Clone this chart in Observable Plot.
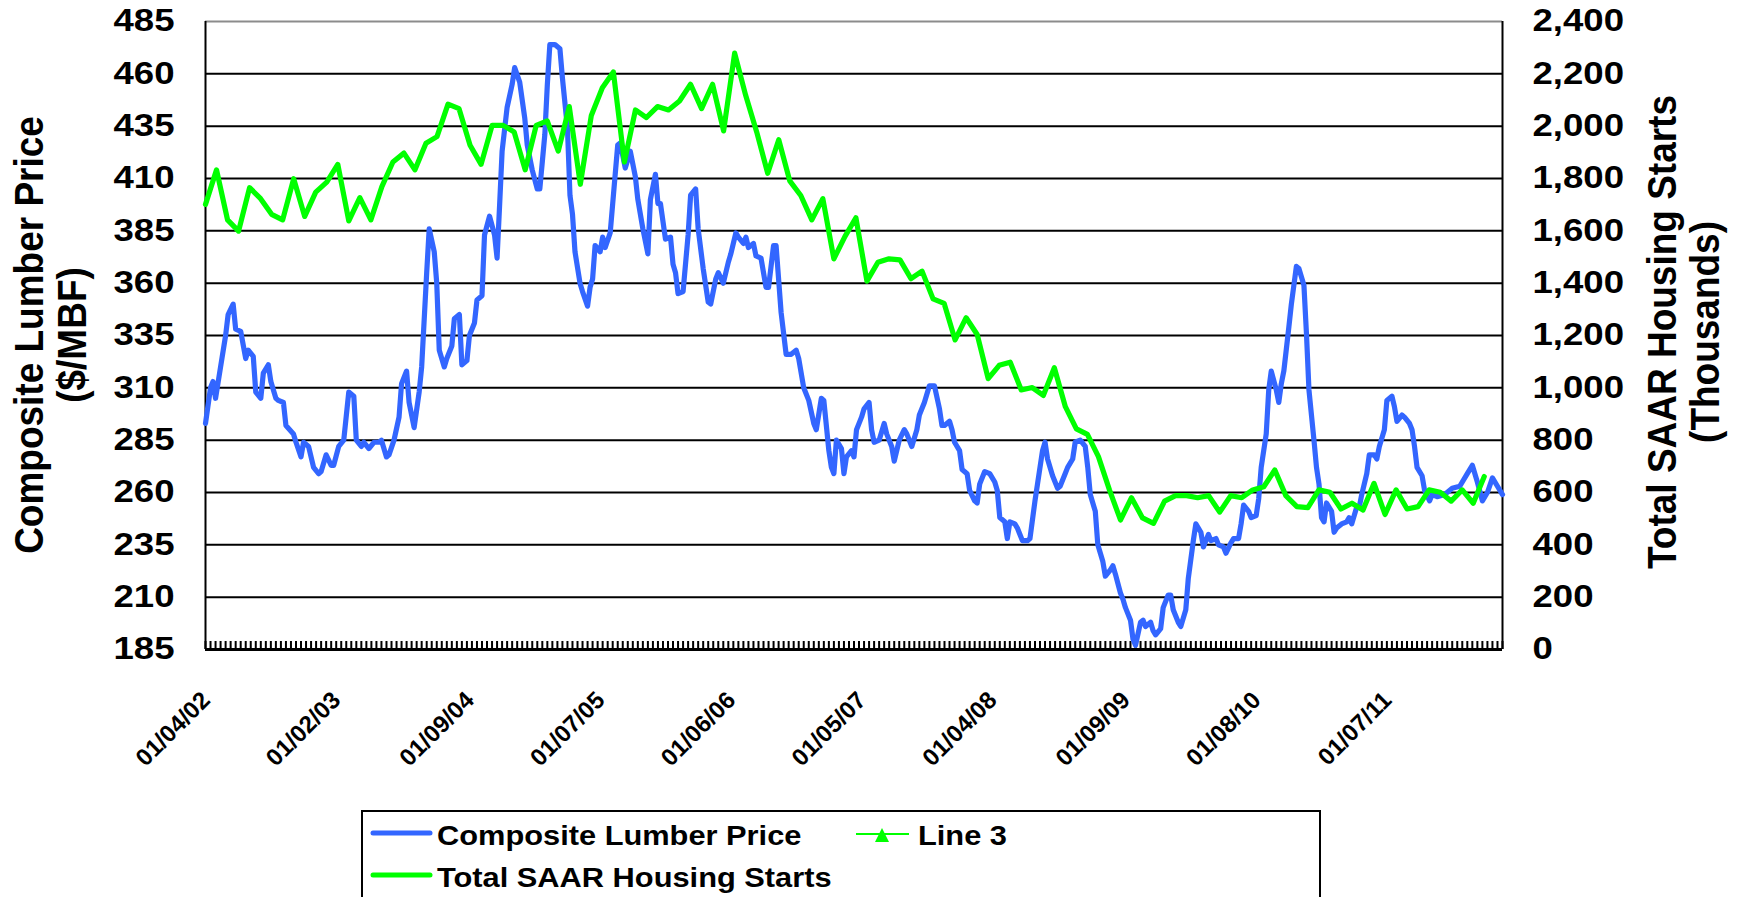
<!DOCTYPE html>
<html><head><meta charset="utf-8">
<script src="https://cdn.jsdelivr.net/npm/d3@7"></script>
<script src="https://cdn.jsdelivr.net/npm/@observablehq/plot@0.6"></script>
<style>
html,body{margin:0;padding:0;background:#fff;overflow:hidden;width:1744px;height:897px}
#wrap{position:relative;width:1744px;height:897px;background:#fff}
#chart{position:absolute;left:0;top:0}
#legend{position:absolute;left:361px;top:810px}
</style></head><body>
<div id="wrap"><div id="chart"></div><div id="legend"></div></div>
<script>
// ---------- data ----------
// Composite lumber price, weekly (week index counted from Fri 01/04/02), $/MBF
const lumberWeeks = [0,2,3,4,6,8,9,11,12,14,16,17,19,20,22,23,25,26,28,29,31,32,35,36,38,39,41,43,45,46,48,50,51,53,55,57,59,60,62,63,65,67,69,70,72,73,75,77,78,80,81,83,85,86,88,89,91,92,93,95,96,98,99,101,102,104,105,107,108,110,111,113,115,116,117,118,120,122,123,125,127,128,130,132,133,135,136,137,139,141,142,144,145,146,147,149,150,152,153,154,155,157,158,159,161,162,163,164,165,167,169,171,172,174,176,177,179,180,181,183,185,186,187,188,190,192,193,195,196,198,200,201,203,204,206,208,209,211,212,214,215,216,218,219,221,223,224,226,227,229,231,233,235,236,238,240,242,243,245,246,248,249,250,251,253,254,255,257,258,259,261,262,264,265,266,268,270,271,273,274,276,278,279,281,283,284,286,288,290,292,293,294,296,297,298,300,301,303,304,306,307,308,310,312,314,315,316,318,319,320,322,323,325,327,328,330,331,333,334,335,337,339,340,342,343,345,346,348,350,351,352,354,355,357,358,360,361,362,364,365,366,368,369,370,372,373,374,376,377,378,380,381,383,384,385,387,388,390,391,393,394,396,397,398,399,400,402,403,405,406,408,409,411,412,413,415,416,418,419,420,422,423,424,426,427,428,429,431,432,433,434,435,437,438,439,441,442,443,444,445,446,448,449,450,452,454,455,456,458,459,460,462,463,465,466,467,469,470,472,473,474,476,477,479,480,481,482,484,485,487,488,490,493,496,499,502,504,506,508,510,512,514,516];
const lumberPrice = [293,310,313,305,320,335,345,350,338,337,324,328,325,308,305,317,321,313,305,304,303,292,288,284,277,284,282,272,269,270,278,273,273,282,285,308,306,285,282,284,281,284,284,285,277,278,285,296,312,318,303,291,308,320,365,386,375,360,328,320,324,330,343,345,321,323,335,341,352,354,383,392,383,372,397,423,444,455,463,456,439,426,414,405,405,431,455,474,474,472,458,434,402,393,375,360,356,349,358,362,378,375,382,377,384,398,412,426,427,415,423,411,400,386,374,400,412,398,398,381,382,369,365,355,356,383,402,405,386,367,351,350,362,365,360,370,374,384,382,379,382,377,379,373,372,358,358,378,378,346,326,326,328,324,310,304,293,290,305,304,280,272,269,285,281,269,277,280,277,290,296,300,303,290,284,285,293,288,282,275,285,290,288,282,290,297,303,311,311,300,292,292,294,290,284,280,271,269,261,256,255,264,270,269,265,261,248,246,238,246,245,243,237,237,238,256,264,280,284,276,268,262,263,269,272,276,284,285,282,272,259,251,235,227,220,223,225,221,212,209,205,199,190,187,198,199,196,198,194,192,195,205,211,211,204,198,196,204,219,237,245,241,234,237,240,237,238,235,234,231,236,238,238,245,254,251,248,249,257,272,288,309,318,309,303,312,318,339,350,359,368,367,359,336,309,285,272,264,248,246,255,251,241,243,245,246,248,245,253,253,259,269,278,278,276,282,290,304,306,301,294,297,296,293,290,282,272,268,261,256,259,258,259,262,263,269,273,265,256,260,267,263,259];
// Total SAAR housing starts (thousands), monthly from Jan 2002
const startsValues = [1701,1833,1642,1599,1765,1723,1663,1642,1799,1655,1748,1786,1854,1638,1727,1642,1769,1863,1897,1833,1935,1960,2084,2067,1927,1854,2003,2003,1978,1833,2003,2020,1905,2075,1778,2041,2147,2207,1863,2062,2033,2075,2062,2096,2160,2067,2160,1982,2279,2118,1978,1820,1948,1791,1735,1642,1723,1493,1578,1650,1408,1480,1493,1489,1417,1446,1340,1323,1183,1268,1204,1035,1086,1098,992,1001,971,1077,928,843,822,737,610,495,580,503,482,567,588,588,580,588,525,588,580,610,622,686,588,546,542,610,601,537,559,533,635,516,610,537,546,610,601,567,610,559,661];
const leftTicks = [185,210,235,260,285,310,335,360,385,410,435,460,485];
const rightTicks = [0,200,400,600,800,1000,1200,1400,1600,1800,2000,2200,2400];
const dateLabels = ["01/04/02","01/02/03","01/09/04","01/07/05","01/06/06","01/05/07","01/04/08","01/09/09","01/08/10","01/07/11"];
const dateLabelISO = ["2002-01-04","2003-01-02","2004-01-09","2005-01-07","2006-01-06","2007-01-05","2008-01-04","2009-01-09","2010-01-08","2011-01-07"];
const seriesNames = ["Composite Lumber Price","Total SAAR Housing Starts","Line 3"];
const leftTitle = ["Composite Lumber Price","($/MBF)"];
const rightTitle = ["Total SAAR Housing Starts","(Thousands)"];

// ---------- build tables ----------
const DAY = 864e5;
const W0 = Date.UTC(2002,0,4);
const MONTH_STEP = 30.7; // spacing of the monthly series on the shared category axis (days)
const lumber = lumberWeeks.map((w,i)=>({date:new Date(W0 + w*7*DAY), price:lumberPrice[i]}));
const starts = startsValues.map((v,i)=>({date:new Date(W0 + i*MONTH_STEP*DAY), v}));
const toLeft = v => 185 + v*(300/2400);          // secondary axis -> primary
const xDomain = [new Date(W0), new Date(W0 + lumberWeeks[lumberWeeks.length-1]*7*DAY)];
const tickDates = d3.range(0, lumberWeeks[lumberWeeks.length-1]+1, 2).map(w=>new Date(W0 + w*7*DAY));
const labelDates = dateLabelISO.map(s=>new Date(s+"T00:00:00Z"));

const FONT = '"Liberation Sans", Arial, Helvetica, sans-serif';
const BLUE = "#3366ff", GREEN = "#00ff00";
const S = 1.18;

const chart = Plot.plot({
  width:1744, height:800,
  marginLeft:205, marginRight:242, marginTop:21, marginBottom:151,
  style:{fontFamily:FONT, fontWeight:"bold", color:"#000", background:"#fff", overflow:"visible"},
  x:{type:"utc", domain:xDomain, axis:null},
  y:{domain:[185,485]},
  marks:[
    Plot.ruleY(leftTicks.slice(1,-1), {stroke:"#000", strokeWidth:2}),
    Plot.ruleY([485], {stroke:"#8c8c8c", strokeWidth:2}),
    Plot.ruleX(xDomain, {stroke:"#000", strokeWidth:2}),
    Plot.tickX(tickDates, {x:d=>d, stroke:"#000", strokeWidth:2, insetTop:620}),
    Plot.ruleY([185], {stroke:"#000", strokeWidth:3}),
    Plot.line(lumber, {x:"date", y:"price", stroke:BLUE, strokeWidth:5.2, strokeLinejoin:"round", strokeLinecap:"round"}),
    Plot.line(starts, {x:"date", y:d=>toLeft(d.v), stroke:GREEN, strokeWidth:5.2, strokeLinejoin:"round", strokeLinecap:"round"}),
    Plot.axisY(leftTicks, {anchor:"left", tickSize:0, tickPadding:31, fontSize:31, fontWeight:"bold", label:null}),
    Plot.axisY(rightTicks.map(toLeft), {anchor:"right", tickSize:0, tickPadding:30, fontSize:31, fontWeight:"bold", label:null,
      tickFormat:d=>d3.format(",")(Math.round((d-185)*8))}),
    Plot.text(labelDates, {x:d=>d, text:(d,i)=>dateLabels[i], frameAnchor:"bottom", rotate:-45, textAnchor:"end",
      dy:52, dx:6, fontSize:24, fontWeight:"bold", fill:"#000"})
  ]
});
document.getElementById("chart").appendChild(chart);

// horizontal stretch of the (unrotated) text, as in the reference
chart.querySelectorAll("text").forEach(t=>{
  const tr = t.getAttribute("transform") || "";
  if (/rotate/.test(tr)) return;
  const m = tr.match(/^\s*translate\(([^)]*)\)(.*)$/);
  if (m) t.setAttribute("transform", `translate(${m[1]}) scale(${S},1)${m[2]}`);
  else {
    const x = parseFloat(t.getAttribute("x")) || 0;
    t.setAttribute("transform", `translate(${x},0) scale(${S},1) translate(${-x},0) ${tr}`);
  }
});

// axis titles
const svg = d3.select(chart);
function vTitle(txt, x, y){
  svg.append("text").attr("transform", `translate(${x},${y}) scale(1.12,1) rotate(-90)`)
    .attr("text-anchor","middle").attr("font-size",37).attr("font-weight","bold")
    .attr("font-family",FONT).attr("fill","#000").text(txt);
}
vTitle(leftTitle[0], 43, 335);
vTitle(leftTitle[1], 86, 335);
vTitle(rightTitle[0], 1676, 332);
vTitle(rightTitle[1], 1719, 332);

// legend (below the chart)
const lg = d3.select("#legend").append("svg").attr("width",962).attr("height",90)
  .style("font-family",FONT).style("font-weight","bold");
lg.append("rect").attr("x",1).attr("y",1).attr("width",958).attr("height",140)
  .attr("fill","#fff").attr("stroke","#000").attr("stroke-width",2);
const items = [
  {name:seriesNames[0], color:BLUE, x:12, y:23, tx:76, ty:35, w:5},
  {name:seriesNames[1], color:GREEN, x:12, y:65, tx:76, ty:77, w:5},
  {name:seriesNames[2], color:GREEN, x:495, y:24, tx:557, ty:35, w:2, marker:true}
];
items.forEach(it=>{
  lg.append("line").attr("x1",it.x).attr("x2",it.x+(it.marker?53:57)).attr("y1",it.y).attr("y2",it.y)
    .attr("stroke",it.color).attr("stroke-width",it.w).attr("stroke-linecap",it.marker?"butt":"round");
  if (it.marker){
    const cx = it.x+26;
    lg.append("path").attr("d",`M${cx},${it.y-6}L${cx+7},${it.y+8}L${cx-7},${it.y+8}Z`).attr("fill",it.color);
  }
  lg.append("text").attr("transform",`translate(${it.tx},${it.ty}) scale(1.1,1)`)
    .attr("font-size",28).attr("fill","#000").text(it.name);
});
</script></body></html>
